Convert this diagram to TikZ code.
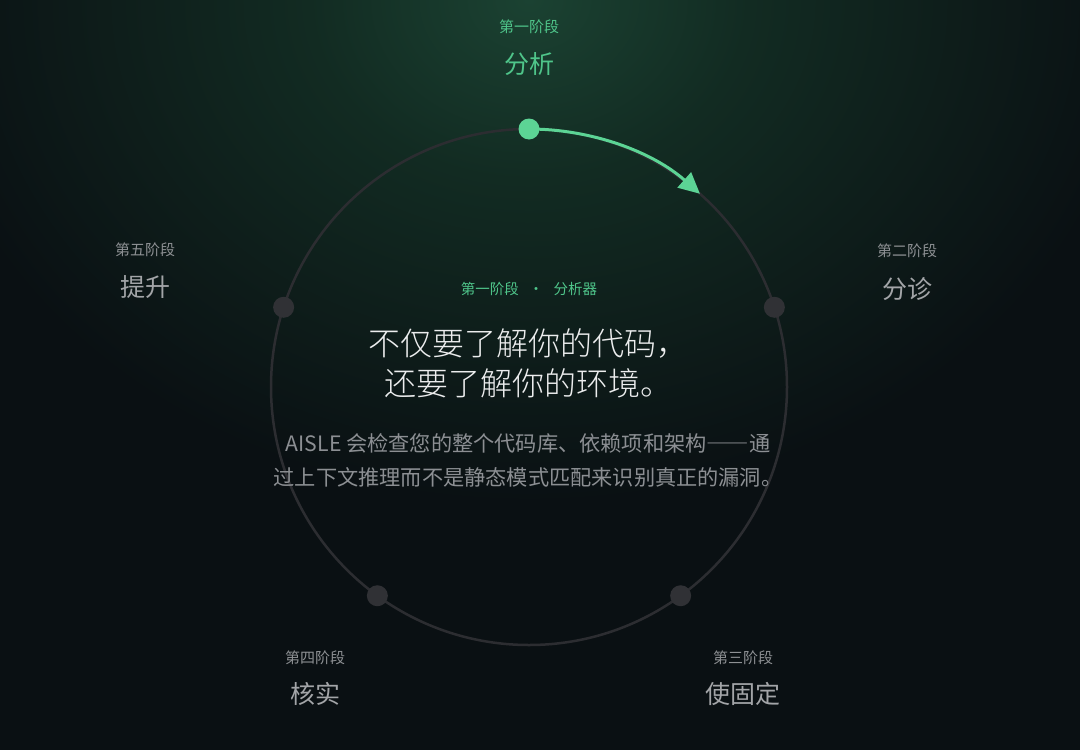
\documentclass[tikz,border=0pt]{standalone}
\usepackage{fontspec}
\usetikzlibrary{positioning,arrows.meta,calc}
\newfontfamily\cjk{Noto Sans CJK SC}
\IfFontExistsTF{Noto Sans CJK SC Light}
  {\newfontfamily\cjklight{Noto Sans CJK SC Light}}
  {\newfontfamily\cjklight{Noto Sans CJK SC}}
\definecolor{bgdark}{HTML}{0A1013}
\definecolor{glowin}{HTML}{1B4232}
\definecolor{glowmid}{HTML}{122B22}
\definecolor{ringgray}{HTML}{2C2D31}
\definecolor{dotgray}{HTML}{303135}
\definecolor{accent}{HTML}{5CD495}
\definecolor{labelgreen}{HTML}{4FC58A}
\definecolor{stagegray}{HTML}{8E9194}
\definecolor{namegray}{HTML}{A3A5A8}
\definecolor{bodygray}{HTML}{8C8F93}
\definecolor{headwhite}{HTML}{ECEDEE}
\pgfdeclareradialshading{topglow}{\pgfpoint{0bp}{0bp}}{color(0bp)=(glowin);color(5bp)=(glowmid);color(14bp)=(bgdark);color(50bp)=(bgdark)}

\begin{document}
\begin{tikzpicture}[
x=1pt, y=-1pt,
ring/.style={
  draw=ringgray,
  line width=2.5pt
  },
stagedot/.style={
  circle,
  fill=dotgray,
  inner sep=0pt,
  minimum size=21pt
  },
activedot/.style={
  stagedot,
  fill=accent
  },
stagesmall/.style={
  font=\cjk\fontsize{15}{18}\selectfont,
  text=stagegray
  },
stagename/.style={
  font=\cjk\fontsize{25}{30}\selectfont,
  text=namegray
  },
>={Triangle[length=21pt,width=20pt]}
]
\useasboundingbox (0,0) rectangle (1080,750);
\begin{scope}
  \clip (0,0) rectangle (1080,750);
  \fill[bgdark] (0,0) rectangle (1080,750);
  \shade[shading=topglow] (-571,-900) rectangle (1629,900);
\end{scope}

% ring and stages
\coordinate (c) at (529,387);
\draw[ring] (c) circle [radius=258];
\node[activedot] (s1) at ($(c)+(-90:258)$) {};
\node[stagedot] (s2) at ($(c)+(-18:258)$) {};
\node[stagedot] (s3) at ($(c)+(54:258)$) {};
\node[stagedot] (s4) at ($(c)+(126:258)$) {};
\node[stagedot] (s5) at ($(c)+(198:258)$) {};
\draw[->, accent, line width=3pt] (s1.center) arc [start angle=-90, end angle=-48.5, radius=258];

% stage labels
\node[stagesmall, text=labelgreen] (p1) at (529,27) {第一阶段};
\node[stagename, text=labelgreen] (n1) at (529,64) {分析};
\node[stagesmall] (p2) at (907,251) {第二阶段};
\node[stagename] (n2) at (907,289) {分诊};
\node[stagesmall] (p3) at (743,658) {第三阶段};
\node[stagename] (n3) at (743,694) {使固定};
\node[stagesmall] (p4) at (315,658) {第四阶段};
\node[stagename] (n4) at (315,694) {核实};
\node[stagesmall] (p5) at (145,250) {第五阶段};
\node[stagename] (n5) at (145,287) {提升};

% centre text
\node[font=\cjk\fontsize{14.5}{18}\selectfont, text=labelgreen] (tag) at (529,289) {第一阶段\hspace{0.7em}•\hspace{0.7em}分析器};
\node[font=\cjklight\fontsize{32}{40}\selectfont, text=headwhite, align=center] (head) at (528,363)
  {不仅要了解你的代码，\\还要了解你的环境。};
\node[font=\cjk\fontsize{21.2}{34}\selectfont, text=bodygray, align=center] (body) at (528,460)
  {AISLE 会检查您的整个代码库、依赖项和架构{\addfontfeatures{RawFeature=+fwid}——}通\\过上下文推理而不是静态模式匹配来识别真正的漏洞。};
\end{tikzpicture}
\end{document}
